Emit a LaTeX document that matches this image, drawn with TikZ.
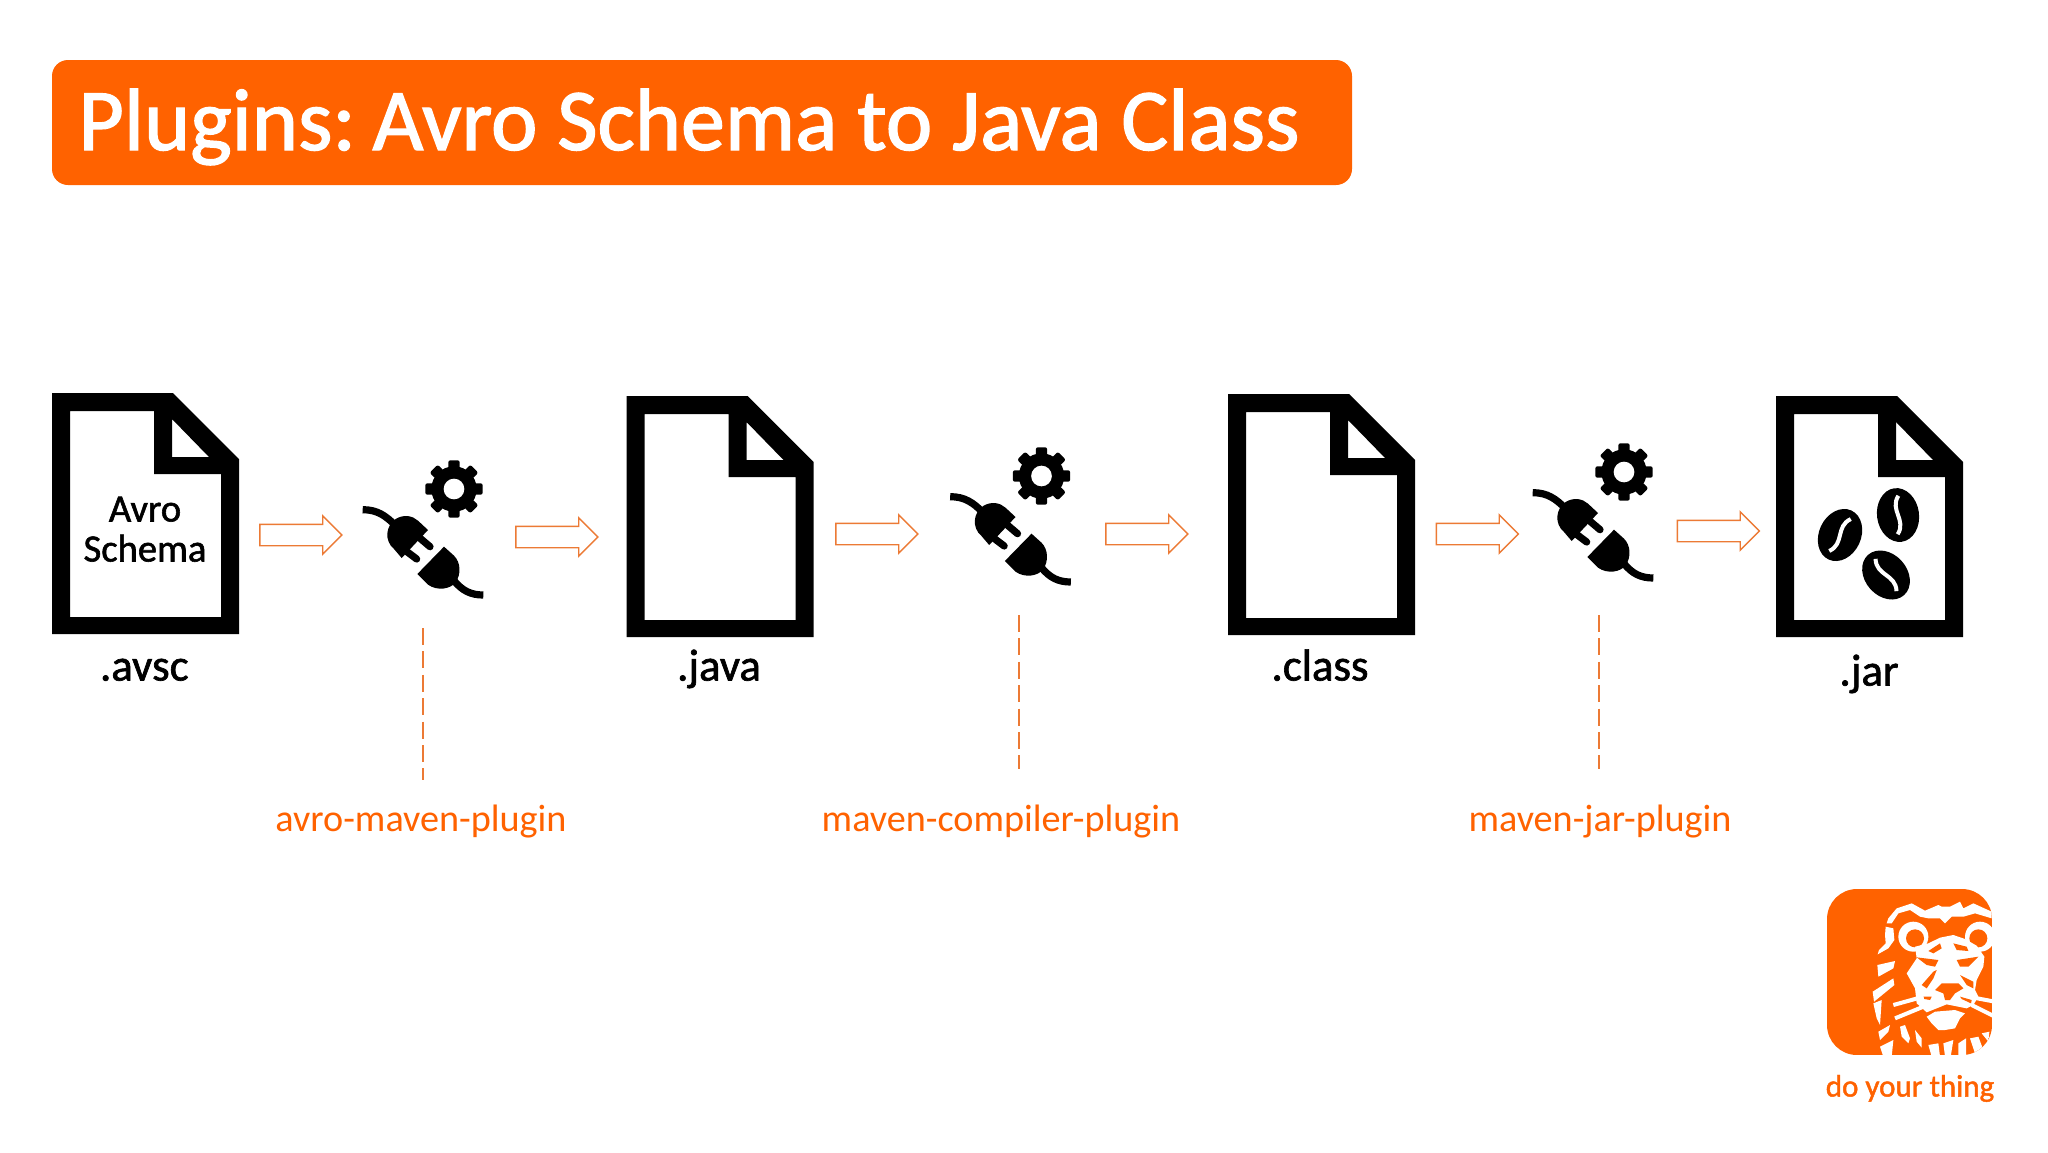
\documentclass[tikz,border=0pt]{standalone}
\usetikzlibrary{shapes.arrows}
\usepackage{fontspec}
\setmainfont{Carlito}
\newfontfamily\medfont[FakeBold=1.5]{Carlito}
\definecolor{ingorange}{HTML}{FF6200}
\definecolor{thinorange}{HTML}{EC7A35}
\tikzset{
  x=0.5pt,y=-0.5pt,
  titlebox/.style={fill=ingorange,rounded corners=8pt},
  titletext/.style={text=white,font=\medfont\fontsize{44}{45}\selectfont,anchor=base west,inner sep=0},
  filelabel/.style={text=black,font=\medfont\fontsize{22.4}{24}\selectfont,inner sep=0,anchor=base},
  doctext/.style={text=black,font=\medfont\fontsize{19.3}{20}\selectfont,inner sep=0,anchor=base},
  pluginlabel/.style={text=ingorange,font=\fontsize{19.1}{20}\selectfont,inner sep=0,anchor=base},
  blockarrow/.style={draw=thinorange,line width=0.7pt,single arrow,inner xsep=0pt,inner ysep=5pt,
    minimum height=41pt,minimum width=18.5pt,single arrow head extend=4.2pt,single arrow tip angle=90,anchor=center},
  plugdash/.style={draw=thinorange,line width=1pt,dash pattern=on 8.5pt off 3.2pt},
  doc/.pic={
    \fill[black,even odd rule] (0,0) -- (121,0) -- (187,66) -- (187,241) -- (0,241) -- cycle
      (18,18) -- (102,18) -- (102,81) -- (169,81) -- (169,224) -- (18,224) -- cycle
      (120,26) -- (120,64) -- (157,64) -- cycle;
  },
  plugicon/.pic={
    \begin{scope}[scale=1/3]
      \fill[black] (0,0) circle[radius=68];
      \foreach \a in {0,45,...,315}{
        \fill[black,rotate=\a,rounded corners=1pt] (-17,-60) rectangle (17,-86);
      }
      \fill[white] (0,0) circle[radius=31];
      \begin{scope}[shift={(-340,-145)}]
        \draw[black,line width=3.6pt] (66,207) .. controls (110,207) and (135,225) .. (165,255);
        \fill[black] (262,268) -- (183,352) -- (160,325) .. controls (130,300) and (135,255) .. (165,235)
          .. controls (190,220) and (215,225) .. (232,240) -- cycle;
        \draw[black,line width=3.6pt,line cap=round] (235,290) -- (268,318);
        \draw[black,line width=3.6pt,line cap=round] (195,330) -- (228,355);
        \fill[black] (310,318) -- (230,400) -- (262,432) .. controls (290,452) and (330,445) .. (345,425)
          .. controls (362,400) and (360,365) .. (340,345) -- cycle;
        \draw[black,line width=3.6pt] (340,420) .. controls (365,450) and (390,463) .. (428,463);
      \end{scope}
    \end{scope}
  },
  bean/.pic={
    \fill[black] (0,0) ellipse[x radius=21,y radius=27];
    \draw[white,line width=2pt] (3,-19) .. controls (-8,-6) and (8,6) .. (-3,19);
  },
  lionline/.style={white,line width=2pt},
}
\begin{document}
\begin{tikzpicture}
\useasboundingbox (0,0) rectangle (2048,1152);
\fill[white] (0,0) rectangle (2048,1152);

\fill[titlebox] (52,60) rectangle (1352,185);
\node[titletext] (title) at (78,150) {Plugins:\hspace{-5pt} Avro Schema to Java Class};

\pic at (52,393) {doc};
\pic at (626.5,396) {doc};
\pic at (1228,394) {doc};
\pic at (1776,396) {doc};

\node[doctext] (avro) at (145,521.5) {Avro};
\node[doctext] (schema) at (145,561.5) {Schema};

\node[filelabel] (avsc) at (144.3,680.5) {.avsc};
\node[filelabel] (java) at (719,680.5) {.java};
\node[filelabel] (class) at (1320,680.5) {.class};
\node[filelabel] (jar) at (1869,685.5) {.jar};

\pic at (454,489) {plugicon};
\pic at (1041.5,476) {plugicon};
\pic at (1624,472) {plugicon};

\node[blockarrow] (a1) at (295.5,535) {};
\node[blockarrow] (a2) at (551.5,537) {};
\node[blockarrow] (a3) at (871.5,534) {};
\node[blockarrow] (a4) at (1141.5,534) {};
\node[blockarrow] (a5) at (1472,534) {};
\node[blockarrow] (a6) at (1713,531) {};

\coordinate (d1a) at (422.5,628); \coordinate (d1b) at (422.5,780);
\coordinate (d2a) at (1018.5,615);  \coordinate (d2b) at (1018.5,769);
\coordinate (d3a) at (1599,615);  \coordinate (d3b) at (1599,769);
\draw[plugdash] (d1a) -- (d1b);
\draw[plugdash] (d2a) -- (d2b);
\draw[plugdash] (d3a) -- (d3b);

\node[pluginlabel] (p1) at (421,831.5) {avro-maven-plugin};
\node[pluginlabel] (p2) at (1001,831.5) {maven-compiler-plugin};
\node[pluginlabel] (p3) at (1600,831.5) {maven-jar-plugin};

% beans
\pic[rotate=-25] at (1840,535) {bean};
\pic[rotate=8] at (1898,515) {bean};
\pic[rotate=42] at (1886,575) {bean};

% logo
\begin{scope}
  \clip[rounded corners=15pt] (1827,889) rectangle (1992,1055);
  \fill[ingorange] (1827,889) rectangle (1992,1055);
  % top mane
  \begin{scope}[shift={(1860,890)},scale=1/3]
    \fill[white] (80,100) -- (85,85) -- (110,55) -- (155,40) -- (195,62) -- (235,45) -- (245,50) -- (270,50) -- (300,35) -- (310,55) -- (340,40) -- (395,65) -- (395,85) -- (345,70) -- (310,80) -- (275,80) -- (255,100) -- (240,85) -- (205,85) -- (180,80) -- (150,60) -- (115,70) -- (95,100) -- cycle;
  \end{scope}
  % face
  \begin{scope}[shift={(1865,925)},scale=1/3]
    \fill[white] (145,35) circle[radius=45];
    \fill[ingorange] (150,40) circle[radius=27];
    \fill[white] (345,35) circle[radius=45];
    \fill[ingorange] (340,40) circle[radius=27];
    \fill[white] (150,65) -- (190,55) -- (225,38) -- (265,30) -- (300,42) -- (335,62) -- (358,95) -- (355,125) -- (335,165) -- (330,195) -- (340,215) -- (325,240) -- (305,250) -- (245,238) -- (185,262) -- (155,235) -- (150,190) -- (125,145) -- (155,100) -- cycle;
    \fill[ingorange] (190,78) -- (225,55) -- (230,70) -- (205,85) -- cycle;
    \fill[ingorange] (265,55) -- (305,65) -- (310,78) -- (275,75) -- cycle;
    \fill[ingorange] (155,97) -- (220,105) -- (210,125) -- (185,120) -- cycle;
    \fill[ingorange] (275,105) -- (340,95) -- (310,125) -- (285,125) -- cycle;
    \fill[ingorange] (170,180) -- (205,140) -- (215,135) -- (205,160) -- (185,190) -- cycle;
    \fill[ingorange] (285,150) -- (325,170) -- (325,190) -- (305,180) -- cycle;
    \fill[ingorange] (210,195) -- (230,175) -- (280,175) -- (295,190) -- (270,205) -- (255,225) -- (240,225) -- (235,205) -- cycle;
    \fill[ingorange] (175,215) -- (200,215) -- (195,225) -- (178,222) -- cycle;
    \fill[ingorange] (285,215) -- (320,225) -- (318,235) -- (290,222) -- cycle;
    % left mane
    \fill[white] (62,5) -- (85,10) -- (88,45) -- (70,70) -- (38,88) -- (42,75) -- (62,55) -- (60,30) -- cycle;
    \fill[white] (37,120) -- (90,108) -- (85,130) -- (40,155) -- cycle;
    \fill[white] (23,200) -- (85,160) -- (88,180) -- (27,230) -- cycle;
  \end{scope}
  % lower part
  \begin{scope}[shift={(1860,975)},scale=1/3]
    \draw[lionline] (100,90) -- (190,65);
    \draw[lionline] (105,130) -- (190,95);
    \draw[lionline] (325,65) -- (405,80);
    \draw[lionline] (335,90) -- (405,125);
    \fill[white] (200,125) -- (225,110) -- (285,105) -- (315,115) -- (300,130) -- (285,160) -- (255,165) -- (235,165) -- (215,145) -- cycle;
    \fill[white] (40,85) -- (65,75) -- (60,150) -- (50,130) -- cycle;
    \fill[white] (55,170) -- (90,150) -- (85,170) -- (60,195) -- cycle;
    \fill[white] (60,215) -- (100,195) -- (95,245) -- (70,245) -- cycle;
    \fill[white] (120,155) -- (135,150) -- (150,190) -- (145,205) -- (125,185) -- cycle;
    \fill[white] (165,165) -- (185,190) -- (185,218) -- (170,200) -- cycle;
    \fill[white] (205,210) -- (235,205) -- (240,245) -- (215,245) -- cycle;
    \fill[white] (250,205) -- (280,195) -- (272,245) -- (255,245) -- cycle;
    \fill[white] (295,205) -- (318,190) -- (318,245) -- (295,245) -- cycle;
    \fill[white] (330,190) -- (355,185) -- (370,225) -- (345,235) -- cycle;
    \fill[white] (365,175) -- (388,170) -- (385,200) -- cycle;
  \end{scope}
\end{scope}
\node[text=ingorange,font=\medfont\fontsize{15.5}{18}\selectfont,inner sep=0,anchor=base] (tag) at (1910,1096.5) {do your thing};
\end{tikzpicture}
\end{document}
